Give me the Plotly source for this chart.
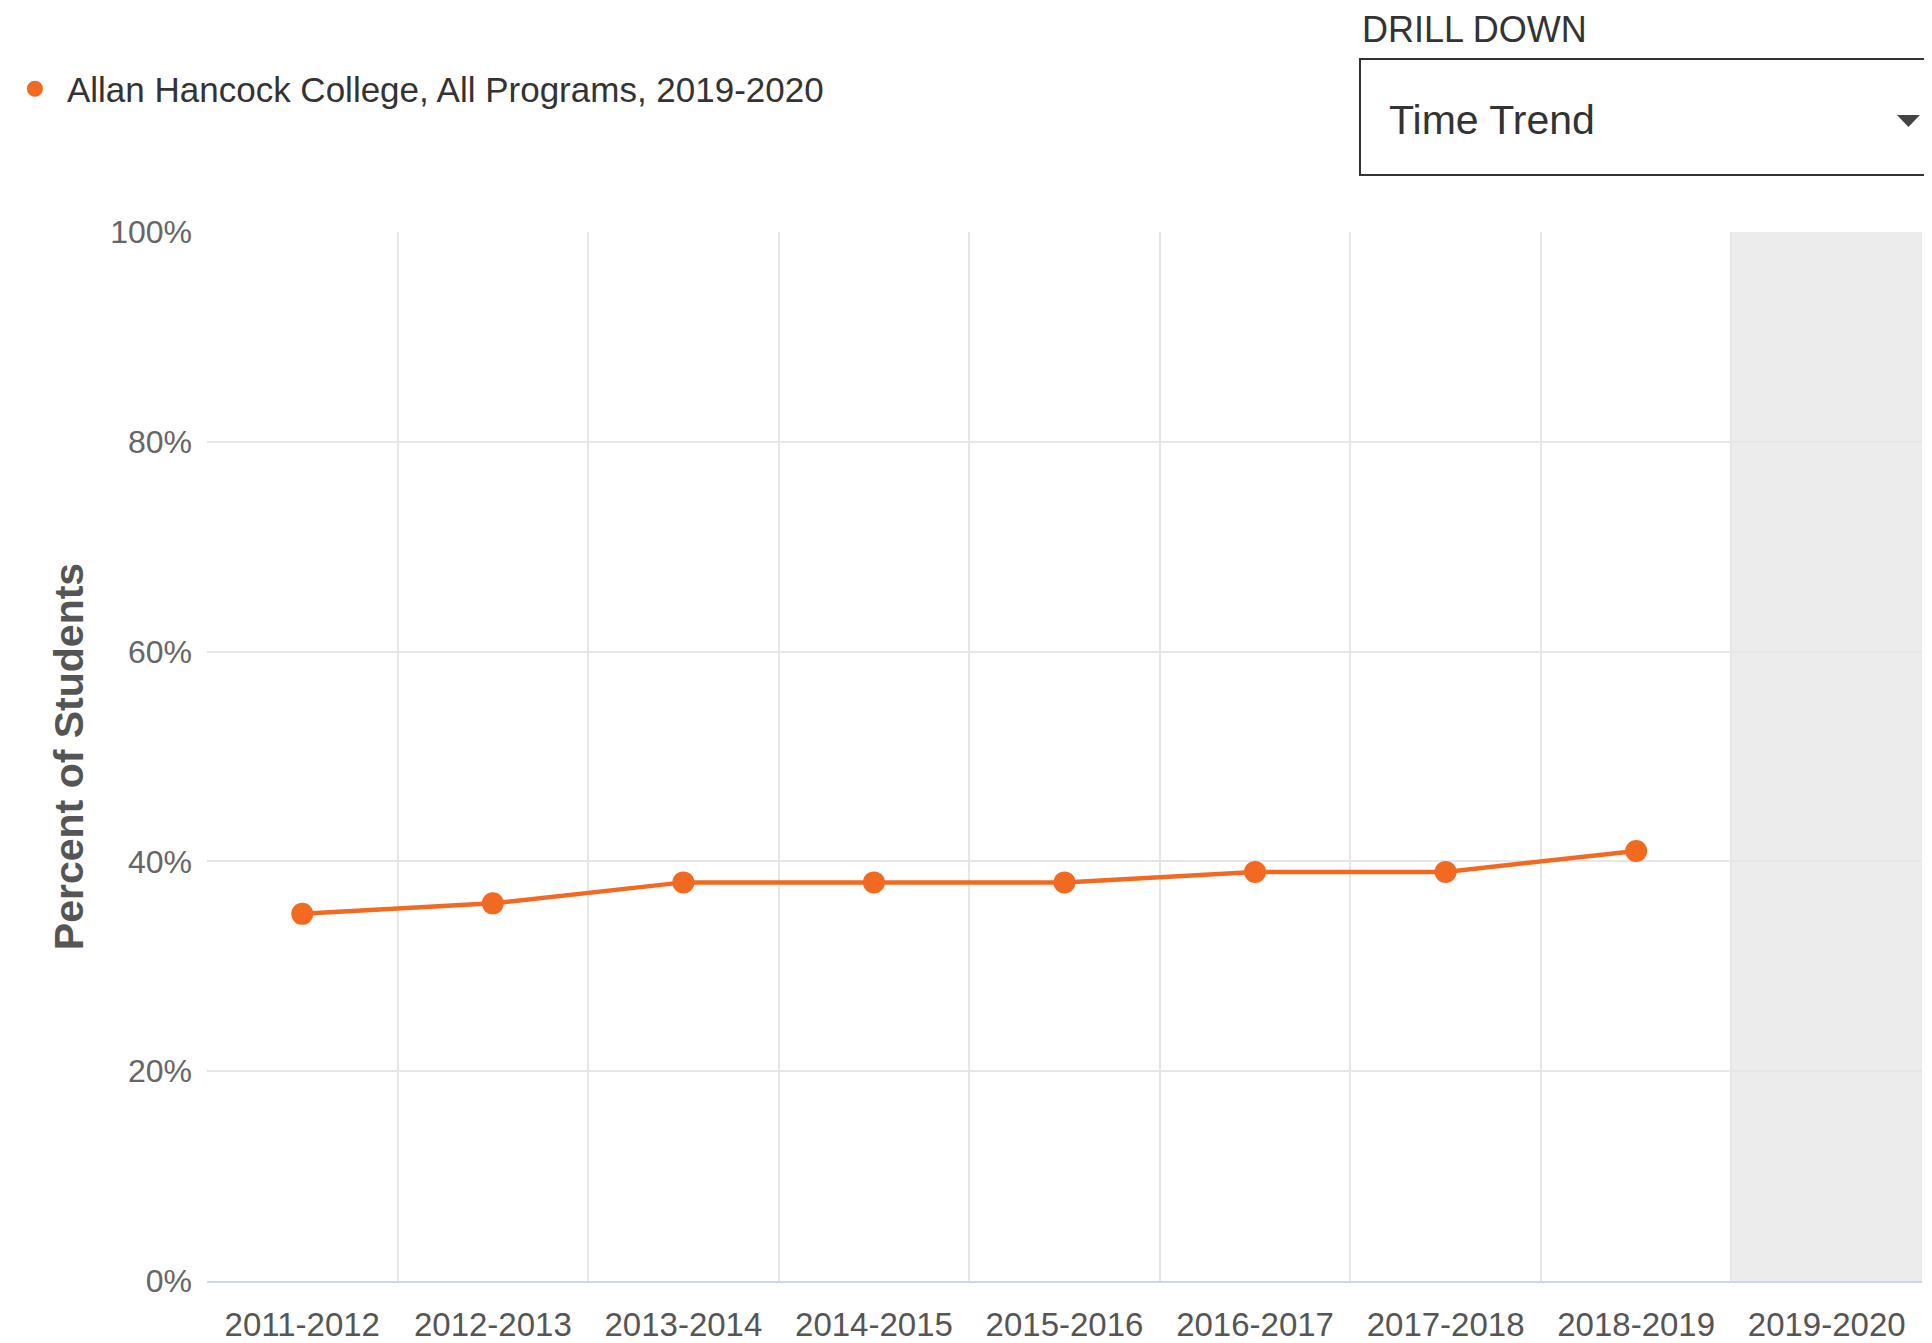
import plotly.graph_objects as go

# academic years on the x axis
years = ['2011-2012', '2012-2013', '2013-2014', '2014-2015', '2015-2016',
         '2016-2017', '2017-2018', '2018-2019', '2019-2020']
# percent of students (fraction); no value yet for the selected year
pct_students = [0.35, 0.36, 0.38, 0.38, 0.38, 0.39, 0.39, 0.41, None]

series_name = 'Allan Hancock College, All Programs, 2019-2020'
selected_year = '2019-2020'
y_ticks = [0, 0.2, 0.4, 0.6, 0.8, 1.0]

ORANGE = '#f26a21'
FONT = 'Liberation Sans, Arial, sans-serif'

fig = go.Figure()

fig.add_trace(go.Scatter(
    x=years,
    y=pct_students,
    mode='lines+markers',
    line=dict(color=ORANGE, width=4.5),
    marker=dict(color=ORANGE, size=22),
    showlegend=False,
    hoverinfo='x+y'
))

# legend entry shows only the marker, like the original
fig.add_trace(go.Scatter(
    x=[None], y=[None],
    mode='markers',
    marker=dict(color=ORANGE, size=22),
    name=series_name,
    showlegend=True
))

sel = years.index(selected_year)

# page body has an 8px margin, so the figure is 8px smaller each way
fig.update_layout(
    width=1924,
    height=1335,
    margin=dict(l=199, r=10, t=224, b=62, autoexpand=False),
    paper_bgcolor='white',
    plot_bgcolor='rgba(0,0,0,0)',
    font=dict(family=FONT, color='#333333'),
    showlegend=True,
    legend=dict(
        x=-0.119, y=1.1363, xanchor='left', yanchor='middle',
        orientation='h',
        itemwidth=54,
        font=dict(size=35, color='#333333'),
        bgcolor='rgba(0,0,0,0)'
    ),
    xaxis=dict(
        type='category',
        categoryorder='array',
        categoryarray=years,
        range=[-0.5, len(years) - 0.5],
        tickson='boundaries',
        showgrid=True,
        gridcolor='#e6e6e6',
        gridwidth=2,
        showline=True,
        linecolor='#ccd6eb',
        linewidth=2,
        ticks='',
        tickfont=dict(size=33, color='#555555'),
        ticklabelstandoff=13,
        zeroline=False,
        automargin=False,
        fixedrange=True
    ),
    yaxis=dict(
        range=[0, 1],
        tickvals=y_ticks,
        tickformat='.0%',
        showgrid=True,
        gridcolor='#e6e6e6',
        gridwidth=2,
        showline=False,
        zeroline=False,
        ticks='',
        ticklabelstandoff=14,
        tickfont=dict(size=32, color='#666666'),
        title=dict(text='<b>Percent of Students</b>',
                   font=dict(size=41, color='#555555'), standoff=13),
        automargin=False,
        fixedrange=True
    ),
    shapes=[
        # shaded band for the selected year
        dict(type='rect', xref='x', yref='paper',
             x0=sel - 0.5, x1=sel + 0.5, y0=0, y1=1,
             fillcolor='#ececec', line_width=0, layer='below'),
        # drill-down select box
        dict(type='rect', xref='paper', yref='paper',
             x0=0.6723, x1=1.01, y0=1.0543, y1=1.1649,
             line=dict(color='#333333', width=2), fillcolor='white'),
        # dropdown caret
        dict(type='path', xref='paper', yref='paper',
             path='M 0.9854 1.1115 L 0.9988 1.1115 L 0.9921 1.1001 Z',
             fillcolor='#444444', line_width=0)
    ],
    annotations=[
        dict(text='DRILL DOWN', xref='paper', yref='paper',
             x=0.6723, y=1.1926, xanchor='left', yanchor='middle',
             showarrow=False, font=dict(size=36, color='#333333')),
        dict(text='Time Trend', xref='paper', yref='paper',
             x=0.688, y=1.1068, xanchor='left', yanchor='middle',
             showarrow=False, font=dict(size=41, color='#333333'))
    ]
)

fig.write_html('out.html')
